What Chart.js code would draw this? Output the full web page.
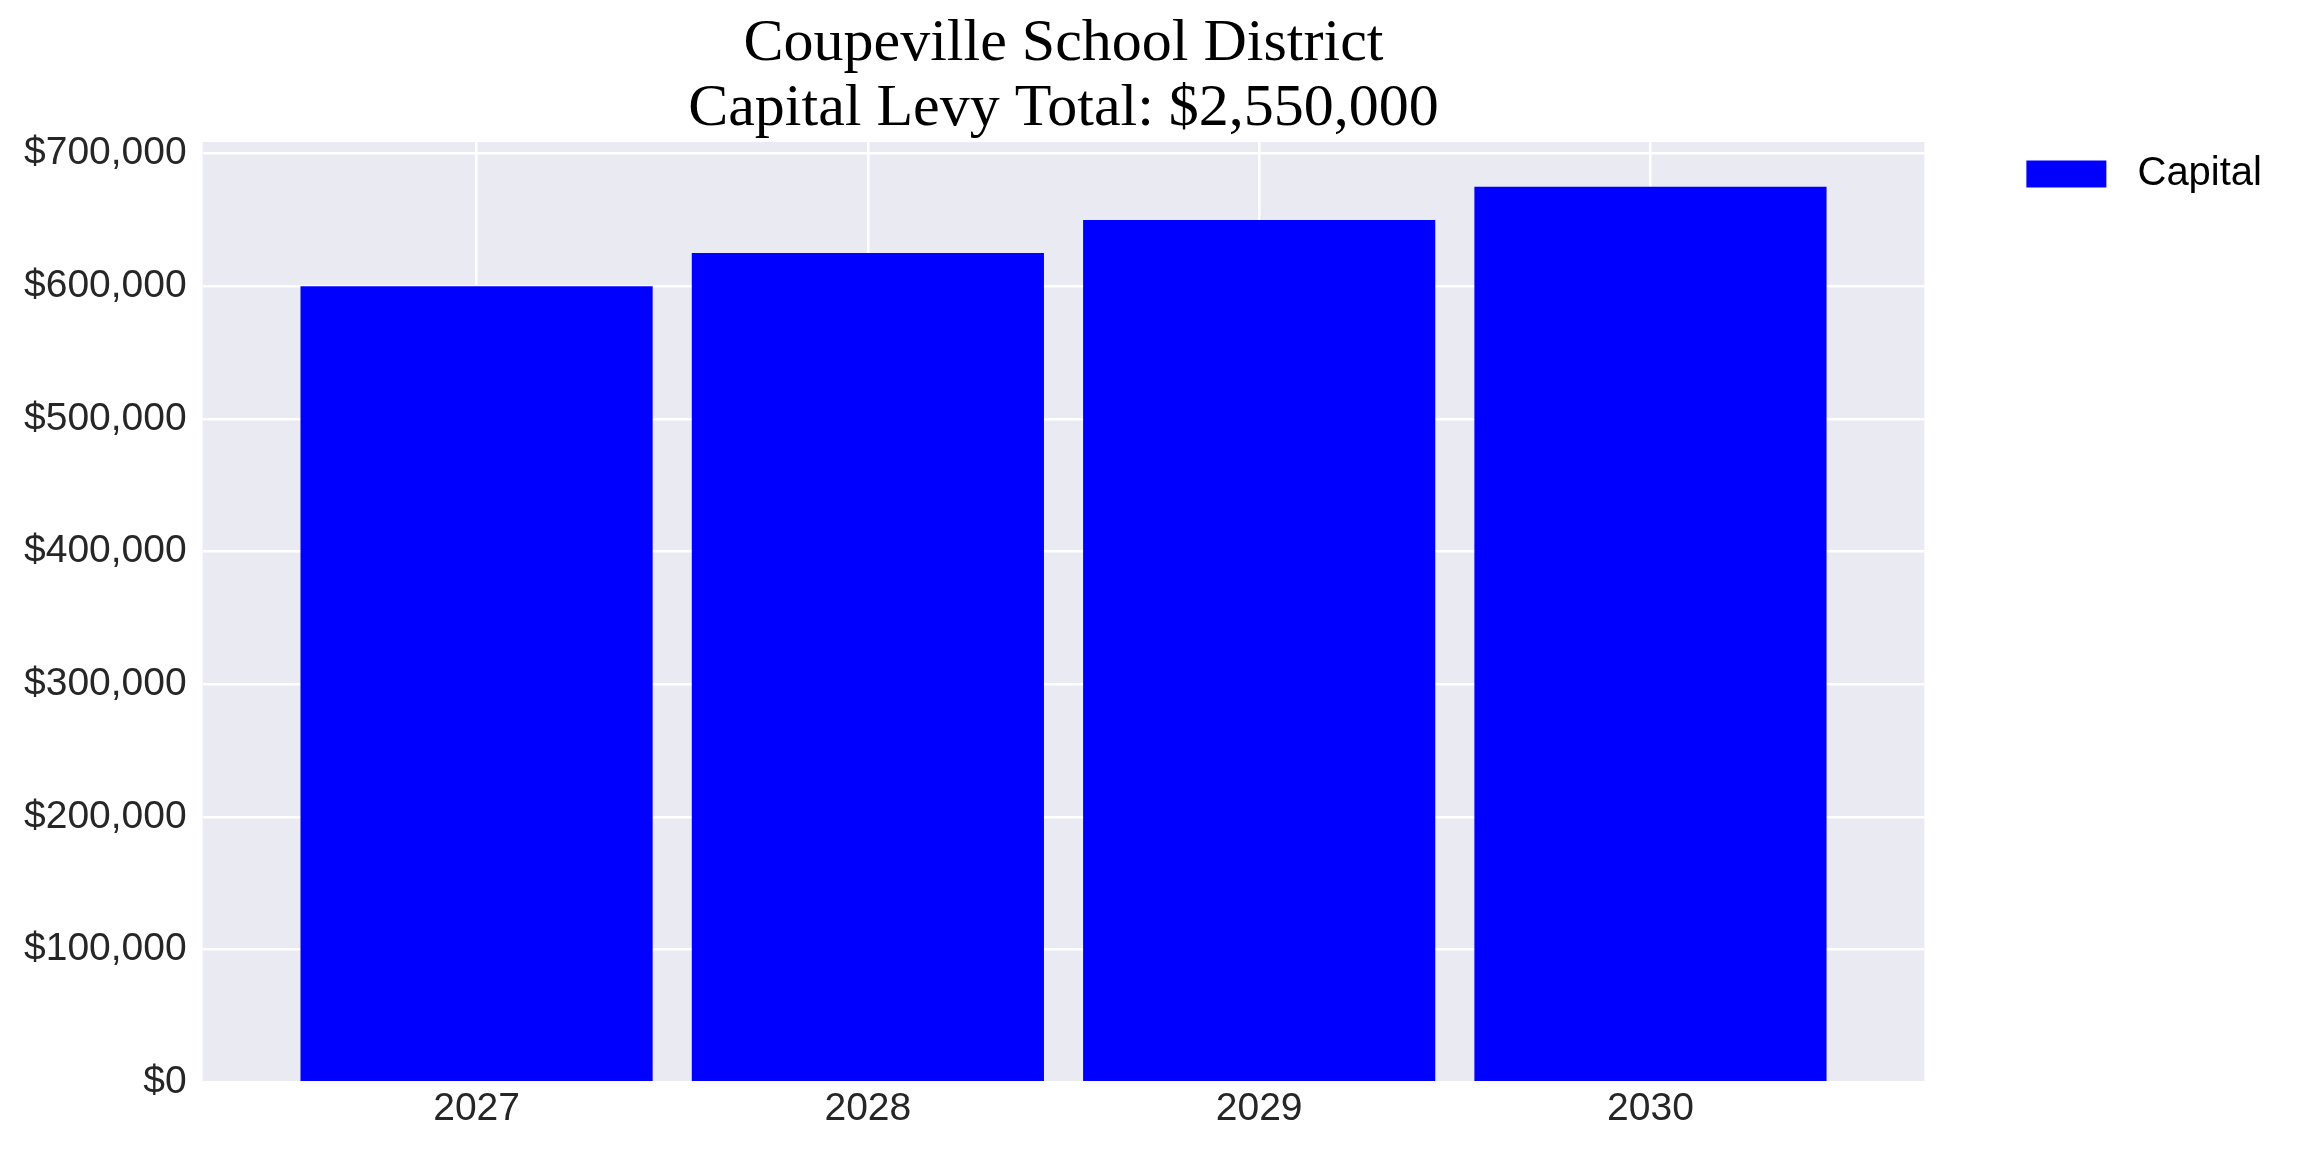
<html>
<head>
	<script src="https://cdn.jsdelivr.net/npm/chart.js@4/dist/chart.umd.min.js"></script>
	<style>
		body { margin: 0; background: #fff; }
	</style>
</head>
<body>
	<div style="width: 2304px; height: 1152px">
		<canvas id="myChart" width="2304" height="1152"></canvas>
	</div>
</body>
<script>

const years = [2027, 2028, 2029, 2030];
const capital = [600000, 625000, 650000, 675000];
const yTicks = [0, 100000, 200000, 300000, 400000, 500000, 600000, 700000];
const titleLines = ['Coupeville School District', 'Capital Levy Total: $2,550,000'];

const data = {
  datasets: [
    {
      label: 'Capital',
      data: years.map((y, i) => ({x: y, y: capital[i]})),
      backgroundColor: '#0000ff',
      borderWidth: 0,
      categoryPercentage: 1,
      barPercentage: 0.9
    }
  ]
};

// grey plot background, like the seaborn style
const plotBg = {
  id: 'plotBg',
  beforeDraw(chart) {
    const a = chart.chartArea;
    const ctx = chart.ctx;
    ctx.save();
    ctx.fillStyle = '#eaeaf2';
    ctx.fillRect(a.left, a.top, a.right - a.left, a.bottom - a.top);
    ctx.restore();
  }
};

const tickFont = {family: 'Liberation Sans', size: 39, lineHeight: 1.2};

const config = {
  type: 'bar',
  data: data,
  plugins: [plotBg],
  options: {
    responsive: false,
    devicePixelRatio: 1,
    animation: false,
    layout: {padding: {left: 8, right: 32, top: 0, bottom: 15}},
    scales: {
      x: {
        type: 'linear',
        offset: false,
        min: 2026.3,
        max: 2030.7,
        afterBuildTicks: s => { s.ticks = years.map(v => ({value: v})); },
        grid: {color: '#ffffff', lineWidth: 2.5, drawTicks: false, offset: false},
        border: {display: false},
        ticks: {
          font: tickFont,
          color: '#262626',
          padding: 4,
          callback: v => String(v)
        }
      },
      y: {
        min: 0,
        max: 708750,
        afterBuildTicks: s => { s.ticks = yTicks.map(v => ({value: v})); },
        grid: {color: '#ffffff', lineWidth: 2.5, drawTicks: false},
        border: {display: false},
        ticks: {
          font: tickFont,
          color: '#262626',
          padding: 16,
          callback: v => '$' + v.toLocaleString('en-US')
        }
      },
      // empty axis, only keeps the gap between plot and legend
      gap: {
        type: 'linear',
        position: 'right',
        display: true,
        grid: {display: false},
        border: {display: false},
        ticks: {display: false},
        afterFit: s => { s.width = 90; }
      }
    },
    plugins: {
      title: {
        display: true,
        fullSize: false,
        text: titleLines,
        color: '#000000',
        font: {family: 'Liberation Serif', size: 60, weight: 'normal', lineHeight: 1.083},
        padding: {top: 12, bottom: 0}
      },
      legend: {
        position: 'right',
        align: 'start',
        fullSize: false,
        labels: {
          boxWidth: 80,
          boxHeight: 27,
          padding: 12,
          color: '#000000',
          font: {family: 'Liberation Sans', size: 40},
          generateLabels: chart => Chart.defaults.plugins.legend.labels.generateLabels(chart)
            .map(item => Object.assign(item, {text: ' ' + item.text}))
        }
      },
      tooltip: {enabled: false}
    }
  }
};

var ctx = document.getElementById('myChart');
var myChart = new Chart(ctx, config);

</script>
</html>
